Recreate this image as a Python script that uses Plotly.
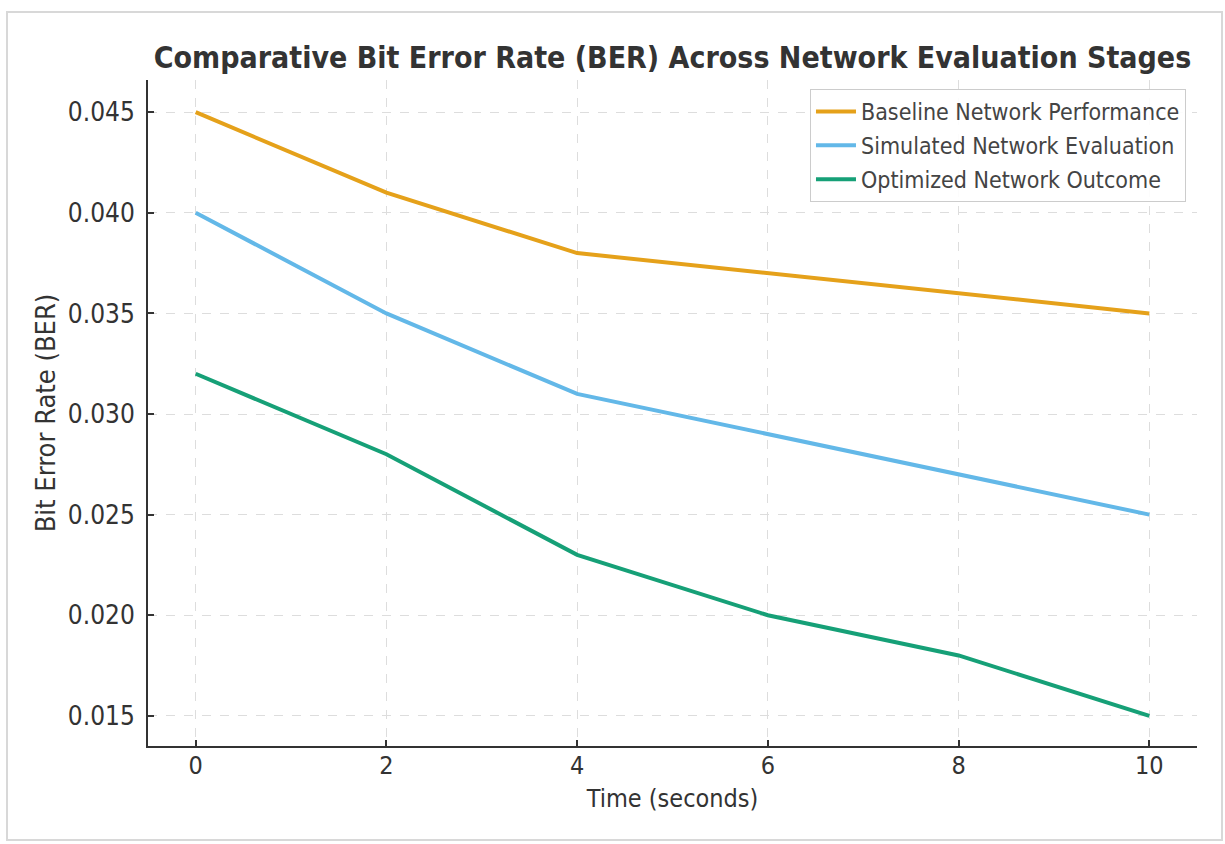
import plotly.graph_objects as go

time_s = [0, 2, 4, 6, 8, 10]
baseline = [0.045, 0.041, 0.038, 0.037, 0.036, 0.035]
simulated = [0.040, 0.035, 0.031, 0.029, 0.027, 0.025]
optimized = [0.032, 0.028, 0.023, 0.020, 0.018, 0.015]

series_names = ["Baseline Network Performance", "Simulated Network Evaluation", "Optimized Network Outcome"]
series_values = [baseline, simulated, optimized]
colors = ["#E5A11A", "#63B8E8", "#16A077"]

y_ticks = [0.015, 0.020, 0.025, 0.030, 0.035, 0.040, 0.045]
x_ticks = [0, 2, 4, 6, 8, 10]

fig = go.Figure()
for i, (name, vals, c) in enumerate(zip(series_names, series_values, colors)):
    fig.add_trace(go.Scatter(x=time_s, y=vals, mode="lines", name=name, legendgroup=f"g{i}",
                             line=dict(color=c, width=4)))

font_family = "DejaVu Sans Condensed, DejaVu Sans"
fig.update_layout(
    width=1225, height=844,
    paper_bgcolor="white", plot_bgcolor="white",
    margin=dict(l=148, r=28, t=80, b=98),
    title=dict(text="<b>Comparative Bit Error Rate (BER) Across Network Evaluation Stages</b>",
               x=(148 + 1197) / 2 / 1225, xanchor="center", y=1 - 57 / 844, yanchor="middle",
               font=dict(family=font_family, size=30, color="#333333")),
    font=dict(family=font_family, color="#333333"),
    showlegend=True,
    legend=dict(x=0.9895, xanchor="right", y=0.9865, yanchor="top",
                bgcolor="rgba(255,255,255,0.9)", bordercolor="#CCCCCC", borderwidth=1,
                font=dict(family=font_family, size=23, color="#444444"),
                itemwidth=40, tracegroupgap=1),
    xaxis=dict(range=[-0.5, 10.5], tickvals=x_ticks, ticktext=[str(v) for v in x_ticks],
               showgrid=True, gridcolor="#DDDDDD", griddash="dash", gridwidth=1,
               showline=True, linecolor="#333333", linewidth=2, mirror=False,
               ticks="inside", ticklen=6, tickwidth=1.5, tickcolor="#333333",
               ticklabelstandoff=-4,
               tickfont=dict(size=25, color="#333333"), zeroline=False,
               title=dict(text="Time (seconds)", font=dict(size=25, color="#333333"), standoff=10)),
    yaxis=dict(range=[0.0135, 0.0466], tickvals=y_ticks, ticktext=[f"{v:.3f}" for v in y_ticks],
               showgrid=True, gridcolor="#DDDDDD", griddash="dash", gridwidth=1,
               showline=True, linecolor="#333333", linewidth=2, mirror=False,
               ticks="inside", ticklen=6, tickwidth=1.5, tickcolor="#333333",
               ticklabelstandoff=6,
               tickfont=dict(size=26, color="#333333"), zeroline=False,
               title=dict(text="Bit Error Rate (BER)", font=dict(size=27, color="#333333"), standoff=4)),
)

fig.add_shape(type="rect", xref="paper", yref="paper",
              x0=-(148 - 7) / 1049, x1=1 + (1222 - 1197) / 1049,
              y0=-(840 - 746) / 666, y1=1 + (80 - 12) / 666,
              line=dict(color="#D8D8D8", width=2), layer="below")

fig.write_html("out.html")
